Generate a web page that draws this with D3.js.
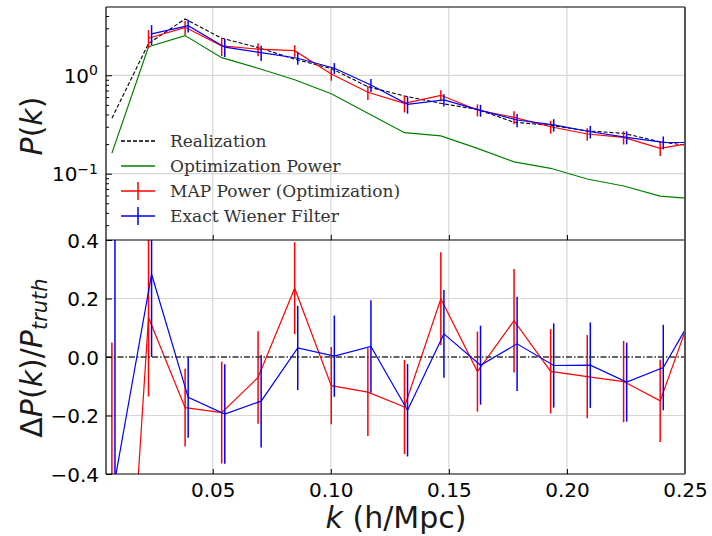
<!DOCTYPE html>
<html>
<head>
<meta charset="utf-8">
<script src="https://cdn.jsdelivr.net/npm/d3@7"></script>
<style>
  body { margin: 0; background: #fff; }
  text { font-family: 'DejaVu Sans', sans-serif; }
</style>
</head>
<body>
<svg id="chart"></svg>
<script>
'use strict';
// wavenumbers (red / realization / optimization share k, blue is nudged right)
const K = [0.0073, 0.0228, 0.0383, 0.0538, 0.0692, 0.0847, 0.1002, 0.1157, 0.1312,
  0.1466, 0.1621, 0.1776, 0.1931, 0.2086, 0.2240, 0.2395, 0.2550];
const K_WF = [0.0086, 0.0241, 0.0396, 0.0551, 0.0705, 0.0860, 0.1015, 0.1170, 0.1325,
  0.1479, 0.1634, 0.1789, 0.1944, 0.2099, 0.2253, 0.2408, 0.2563];

// top panel: P(k)
const P_REAL = [0.366, 2.1, 3.73, 2.38, 1.91, 1.46, 1.17, 0.766, 0.616, 0.519, 0.45,
  0.333, 0.31, 0.272, 0.257, 0.211, 0.188];
const P_OPT = [0.162, 1.95, 2.53, 1.51, 1.18, 0.9, 0.65, 0.411, 0.261, 0.242, 0.181,
  0.132, 0.1135, 0.0883, 0.075, 0.0593, 0.055];
const P_MAP = [null, 2.38, 3.07, 1.99, 1.84, 1.78, 1.03, 0.672, 0.519, 0.626, 0.444,
  0.374, 0.3, 0.253, 0.234, 0.181, 0.21];
const P_MAP_ERR = [null, 0.5, 0.5, 0.42, 0.28, 0.24, 0.15, 0.11, 0.1, 0.08, 0.062,
  0.056, 0.045, 0.037, 0.036, 0.03, 0.03];
const P_WF = [null, 2.63, 3.19, 1.93, 1.7, 1.49, 1.18, 0.797, 0.507, 0.561, 0.44,
  0.351, 0.313, 0.267, 0.234, 0.208, 0.207];
const P_WF_ERR = [null, 0.6, 0.47, 0.4, 0.3, 0.21, 0.15, 0.12, 0.1, 0.08, 0.061,
  0.054, 0.045, 0.039, 0.035, 0.031, 0.03];

// bottom panel: dP/P_truth
const D_MAP = [-1.8, 0.135, -0.173, -0.19, -0.07, 0.235, -0.098, -0.12, -0.171, 0.199,
  -0.05, 0.124, -0.049, -0.067, -0.084, -0.15, 0.2];
const D_MAP_ERR = [1.85, 0.27, 0.133, 0.174, 0.158, 0.157, 0.132, 0.15, 0.161, 0.159,
  0.137, 0.177, 0.144, 0.142, 0.139, 0.141, 0.14];
const D_WF = [-0.42, 0.283, -0.138, -0.195, -0.151, 0.031, 0.003, 0.036, -0.182, 0.079,
  -0.028, 0.045, -0.029, -0.028, -0.086, -0.036, 0.18];
const D_WF_ERR = [0.9, 0.283, 0.138, 0.17, 0.158, 0.144, 0.139, 0.158, 0.158, 0.15,
  0.135, 0.161, 0.144, 0.146, 0.135, 0.146, 0.14];

const X_TICKS = [0.05, 0.10, 0.15, 0.20, 0.25];
const Y_TOP_MAJOR = [0.1, 1];
const Y_BOT_TICKS = [-0.4, -0.2, 0.0, 0.2, 0.4];
const LEGEND = ['Realization', 'Optimization Power', 'MAP Power (Optimization)', 'Exact Wiener Filter'];

const W = 712, H = 536;
const PL = 106, PR = 685, PT = 7, PM = 240, PB = 474;
const GRID = '#d6d6d6';

const svg = d3.select('#chart').attr('width', W).attr('height', H);

let x = d3.scaleLinear().domain([0.0048, 0.25]).range([PL, PR]);
let yTop = d3.scaleLog().domain([0.0212, 4.94]).range([PM, PT]);
let yBot = d3.scaleLinear().domain([-0.4, 0.4]).range([PB, PM]);

// clip paths
let defs = svg.append('defs');
defs.append('clipPath').attr('id', 'clipTop').append('rect')
  .attr('x', PL).attr('y', PT).attr('width', PR - PL).attr('height', PM - PT);
defs.append('clipPath').attr('id', 'clipBot').append('rect')
  .attr('x', PL).attr('y', PM).attr('width', PR - PL).attr('height', PB - PM);

// grids
function grid(yScale, yVals, y0, y1) {
  let g = svg.append('g');
  g.selectAll('.vg').data(X_TICKS.slice(0, 4)).enter().append('line')
    .attr('x1', (d) => x(d)).attr('x2', (d) => x(d))
    .attr('y1', y0).attr('y2', y1)
    .attr('stroke', GRID).attr('stroke-width', 1.2);
  g.selectAll('.hg').data(yVals).enter().append('line')
    .attr('x1', PL).attr('x2', PR)
    .attr('y1', (d) => yScale(d)).attr('y2', (d) => yScale(d))
    .attr('stroke', GRID).attr('stroke-width', 1.2);
}
grid(yTop, Y_TOP_MAJOR, PT, PM);
grid(yBot, [-0.2, 0.2], PM, PB);

// series helpers
function drawLine(g, xs, ys, scale, color, dash, width) {
  let pts = xs.map((k, i) => [k, ys[i]]).filter((p) => p[1] !== null);
  let line = d3.line().x((p) => x(p[0])).y((p) => scale(p[1]));
  g.append('path').datum(pts).attr('d', line)
    .attr('fill', 'none').attr('stroke', color)
    .attr('stroke-width', width || 1.2)
    .attr('stroke-dasharray', dash || null);
}
function drawBars(g, xs, ys, errs, scale, color, floor) {
  let pts = xs.map((k, i) => [k, ys[i], errs[i]]).filter((p) => p[1] !== null);
  g.selectAll(null).data(pts).enter().append('line')
    .attr('x1', (p) => x(p[0])).attr('x2', (p) => x(p[0]))
    .attr('y1', (p) => scale(Math.max(p[1] - p[2], floor)))
    .attr('y2', (p) => scale(p[1] + p[2]))
    .attr('stroke', color).attr('stroke-width', 1.5);
}

// top panel
let gTop = svg.append('g').attr('clip-path', 'url(#clipTop)');
drawLine(gTop, K, P_REAL, yTop, '#000', '4,2', 1.1);
drawLine(gTop, K, P_OPT, yTop, '#008000');
drawLine(gTop, K, P_MAP, yTop, '#ff0000');
drawBars(gTop, K, P_MAP, P_MAP_ERR, yTop, '#ff0000', 0.001);
drawLine(gTop, K_WF, P_WF, yTop, '#0000ff');
drawBars(gTop, K_WF, P_WF, P_WF_ERR, yTop, '#0000ff', 0.001);

// bottom panel
let gBot = svg.append('g').attr('clip-path', 'url(#clipBot)');
drawLine(gBot, K, D_MAP, yBot, '#ff0000');
drawBars(gBot, K, D_MAP, D_MAP_ERR, yBot, '#ff0000', -10);
drawLine(gBot, K_WF, D_WF, yBot, '#0000ff');
drawBars(gBot, K_WF, D_WF, D_WF_ERR, yBot, '#0000ff', -10);
gBot.append('line')
  .attr('x1', PL).attr('x2', PR)
  .attr('y1', yBot(0)).attr('y2', yBot(0))
  .attr('stroke', '#333').attr('stroke-width', 1.5)
  .attr('stroke-dasharray', '6,2,1.5,2');

// axes
function styleAxis(g) {
  g.select('.domain').remove();
  g.selectAll('.tick line').attr('stroke', '#000');
  g.selectAll('.tick text').attr('fill', '#000')
    .style('font-family', "'DejaVu Sans', sans-serif").style('font-size', '20px');
}

// top panel y axis: minor ticks
let minorTicks = [];
[0.01, 0.1, 1].forEach((d) => {
  for (let m = 2; m <= 9; m++) minorTicks.push(d * m);
});
minorTicks = minorTicks.filter((v) => v > 0.0212 && v < 4.94);

svg.append('g').attr('transform', `translate(${PL},0)`)
  .call(d3.axisLeft(yTop).tickValues(minorTicks).tickSizeInner(-3).tickFormat(''))
  .call(styleAxis);

let yTopMajor = svg.append('g').attr('transform', `translate(${PL},0)`)
  .call(d3.axisLeft(yTop).tickValues(Y_TOP_MAJOR).tickSizeInner(-6).tickPadding(8).tickFormat(''))
  .call(styleAxis);
yTopMajor.selectAll('.tick text').each(function (d) {
  let t = d3.select(this).attr('dy', '0.36em');
  t.append('tspan').text('10');
  t.append('tspan').attr('dy', '-0.55em').style('font-size', '14px')
    .text(d === 1 ? '0' : '\u22121');
});

// bottom panel y axis
svg.append('g').attr('transform', `translate(${PL},0)`)
  .call(d3.axisLeft(yBot).tickValues(Y_BOT_TICKS).tickSizeInner(-6).tickPadding(7)
    .tickFormat((d) => d3.format('.1f')(d).replace('-', '\u2212')))
  .call(styleAxis)
  .call((g) => g.selectAll('.tick text').attr('dy', '0.36em'));

// x axes (ticks inward)
svg.append('g').attr('transform', `translate(0,${PM})`)
  .call(d3.axisBottom(x).tickValues(X_TICKS).tickSizeInner(-5).tickFormat(''))
  .call(styleAxis);
svg.append('g').attr('transform', `translate(0,${PB})`)
  .call(d3.axisBottom(x).tickValues(X_TICKS).tickSizeInner(-5).tickPadding(9)
    .tickFormat(d3.format('.2f')))
  .call(styleAxis)
  .call((g) => g.selectAll('.tick text').attr('dy', '0.71em'));

// spines
let spines = svg.append('g').attr('fill', 'none');
[[PL, PT, PR, PT], [PL, PT, PL, PB], [PL, PM, PR, PM],
  [PL, PB, PR, PB]].forEach((s) => {
  spines.append('line').attr('x1', s[0]).attr('y1', s[1]).attr('x2', s[2]).attr('y2', s[3])
    .attr('stroke', '#000').attr('stroke-width', 1.2);
});
spines.append('line').attr('x1', PR).attr('y1', PT).attr('x2', PR).attr('y2', PB)
  .attr('stroke', '#555').attr('stroke-width', 2);

// axis labels
let ylab1 = svg.append('text')
  .attr('transform', 'translate(42,126) rotate(-90)')
  .attr('text-anchor', 'middle').attr('fill', '#1a1a1a').style('font-size', '30px');
ylab1.append('tspan').attr('font-style', 'italic').text('P');
ylab1.append('tspan').text('(');
ylab1.append('tspan').attr('font-style', 'italic').text('k');
ylab1.append('tspan').text(')');

let ylab2 = svg.append('text')
  .attr('transform', 'translate(42,358) rotate(-90)')
  .attr('text-anchor', 'middle').attr('fill', '#1a1a1a').style('font-size', '30px');
ylab2.append('tspan').text('\u0394');
ylab2.append('tspan').attr('font-style', 'italic').text('P');
ylab2.append('tspan').text('(');
ylab2.append('tspan').attr('font-style', 'italic').text('k');
ylab2.append('tspan').text(')/');
ylab2.append('tspan').attr('font-style', 'italic').text('P');
ylab2.append('tspan').attr('font-style', 'italic').attr('dy', '0.25em')
  .style('font-size', '21px').text('truth');

let xlab = svg.append('text')
  .attr('x', 396).attr('y', 528)
  .attr('text-anchor', 'middle').attr('fill', '#1a1a1a').style('font-size', '30px');
xlab.append('tspan').attr('font-style', 'italic').text('k');
xlab.append('tspan').text(' (h/Mpc)');

// legend
let legend = svg.append('g');
const legY = [141, 166, 191, 216];
const legColors = ['#000', '#008000', '#ff0000', '#0000ff'];
LEGEND.forEach((name, i) => {
  let row = legend.append('g').attr('transform', `translate(0,${legY[i]})`);
  row.append('line').attr('x1', 121).attr('x2', 155).attr('y1', 0).attr('y2', 0)
    .attr('stroke', legColors[i]).attr('stroke-width', 1.3)
    .attr('stroke-dasharray', i === 0 ? '4,2' : null);
  if (i >= 2) {
    row.append('line').attr('x1', 138).attr('x2', 138).attr('y1', -9).attr('y2', 9)
      .attr('stroke', legColors[i]).attr('stroke-width', 1.5);
  }
  row.append('text').attr('x', 170).attr('y', 0).attr('dy', '0.35em')
    .attr('fill', '#333')
    .style('font-family', "'DejaVu Serif', serif").style('font-size', '17px')
    .text(name);
});
</script>
</body>
</html>
